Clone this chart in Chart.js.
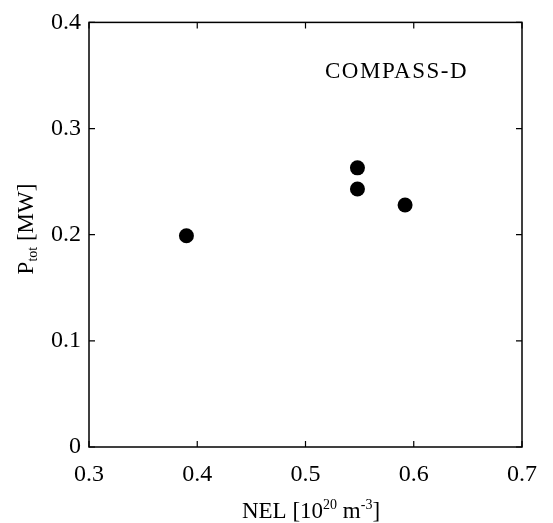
<!DOCTYPE html>
<html>
<head>
<meta charset="utf-8">
<script src="https://cdn.jsdelivr.net/npm/chart.js@4.4.1/dist/chart.umd.min.js"></script>
<style>
	html, body { margin: 0; padding: 0; background: #fff; }
	#caixa { width: 553px; height: 523px; }
</style>
</head>
<body>
<div id="caixa"><canvas id="graficoCompass"></canvas></div>
<script>
// dados
var densidade = [0.39, 0.548, 0.548, 0.592];
var potencia = [0.199, 0.263, 0.243, 0.228];
var ticksX = [0.3, 0.4, 0.5, 0.6, 0.7];
var ticksY = [0, 0.1, 0.2, 0.3, 0.4];
var rotulo = 'COMPASS-D';

var fonteSerif = '"Liberation Serif", "Times New Roman", serif';

function texto(ctx, partes, x, y) {
	// desenha pedacos com sobrescrito / subscrito
	var pos = x;
	partes.forEach(function(p) {
		ctx.font = p.tam + 'px ' + fonteSerif;
		ctx.fillText(p.t, pos, y + (p.dy || 0));
		pos += ctx.measureText(p.t).width;
	});
	return pos - x;
}

function larguraTexto(ctx, partes) {
	var w = 0;
	partes.forEach(function(p) {
		ctx.font = p.tam + 'px ' + fonteSerif;
		w += ctx.measureText(p.t).width;
	});
	return w;
}

var molduraPlugin = {
	id: 'moldura',
	afterDraw: function(chart) {
		var ctx = chart.ctx;
		var a = chart.chartArea;
		var sx = chart.scales.x;
		var sy = chart.scales.y;
		ctx.save();
		ctx.strokeStyle = '#000';
		ctx.lineWidth = 1.5;
		ctx.strokeRect(a.left, a.top, a.right - a.left, a.bottom - a.top);

		// marcas para dentro
		ctx.lineWidth = 1.2;
		ctx.beginPath();
		ticksX.forEach(function(v) {
			var px = sx.getPixelForValue(v);
			ctx.moveTo(px, a.bottom); ctx.lineTo(px, a.bottom - 6);
			ctx.moveTo(px, a.top); ctx.lineTo(px, a.top + 6);
		});
		ticksY.forEach(function(v) {
			var py = sy.getPixelForValue(v);
			ctx.moveTo(a.left, py); ctx.lineTo(a.left + 6, py);
			ctx.moveTo(a.right, py); ctx.lineTo(a.right - 6, py);
		});
		ctx.stroke();

		ctx.fillStyle = '#000';
		ctx.textBaseline = 'alphabetic';
		ctx.textAlign = 'left';

		// rotulo dentro do grafico
		ctx.font = '23px ' + fonteSerif;
		ctx.letterSpacing = '1.5px';
		ctx.fillText(rotulo, 325, 78);
		ctx.letterSpacing = '0px';

		// titulo eixo x
		var tituloX = [
			{ t: 'NEL [10', tam: 23 },
			{ t: '20', tam: 14, dy: -9 },
			{ t: ' m', tam: 23 },
			{ t: '-3', tam: 14, dy: -9 },
			{ t: ']', tam: 23 }
		];
		var wx = larguraTexto(ctx, tituloX);
		texto(ctx, tituloX, 311 - wx / 2, 518);

		// titulo eixo y
		var tituloY = [
			{ t: 'P', tam: 23 },
			{ t: 'tot', tam: 14, dy: 4 },
			{ t: ' [MW]', tam: 23 }
		];
		var wy = larguraTexto(ctx, tituloY);
		ctx.translate(33, 229);
		ctx.rotate(-Math.PI / 2);
		texto(ctx, tituloY, -wy / 2, 0);
		ctx.restore();
	}
};

var $ = function(f) { f(); };

$(function() {
	var ctx = document.getElementById('graficoCompass').getContext('2d');
	var grafico = new Chart(ctx, {
		type: 'scatter',
		data: {
			datasets: [{
				label: rotulo,
				data: densidade.map(function(x, i) { return { x: x, y: potencia[i] }; }),
				backgroundColor: '#000',
				borderWidth: 0,
				pointRadius: 7.5,
				pointHoverRadius: 7.5
			}]
		},
		options: {
			responsive: true,
			maintainAspectRatio: false,
			animation: false,
			layout: { padding: { top: 18, right: 31, left: 0, bottom: 0 } },
			plugins: {
				legend: { display: false },
				tooltip: { enabled: false }
			},
			scales: {
				x: {
					type: 'linear',
					min: 0.3,
					max: 0.7,
					afterBuildTicks: function(scale) {
						scale.ticks = ticksX.map(function(v) { return { value: v }; });
					},
					afterFit: function(scale) { scale.height = 76; },
					grid: { display: false, drawTicks: false },
					border: { display: false },
					ticks: {
						color: '#000',
						padding: 13,
						maxRotation: 0,
						font: { family: fonteSerif, size: 24 },
						callback: function(v) { return String(v); }
					}
				},
				y: {
					type: 'linear',
					min: 0,
					max: 0.4,
					afterBuildTicks: function(scale) {
						scale.ticks = ticksY.map(function(v) { return { value: v }; });
					},
					afterFit: function(scale) { scale.width = 89; },
					grid: { display: false, drawTicks: false },
					border: { display: false },
					ticks: {
						color: '#000',
						padding: 8,
						font: { family: fonteSerif, size: 24 },
						callback: function(v) { return String(v); }
					}
				}
			}
		},
		plugins: [molduraPlugin]
	});
});
</script>
</body>
</html>
